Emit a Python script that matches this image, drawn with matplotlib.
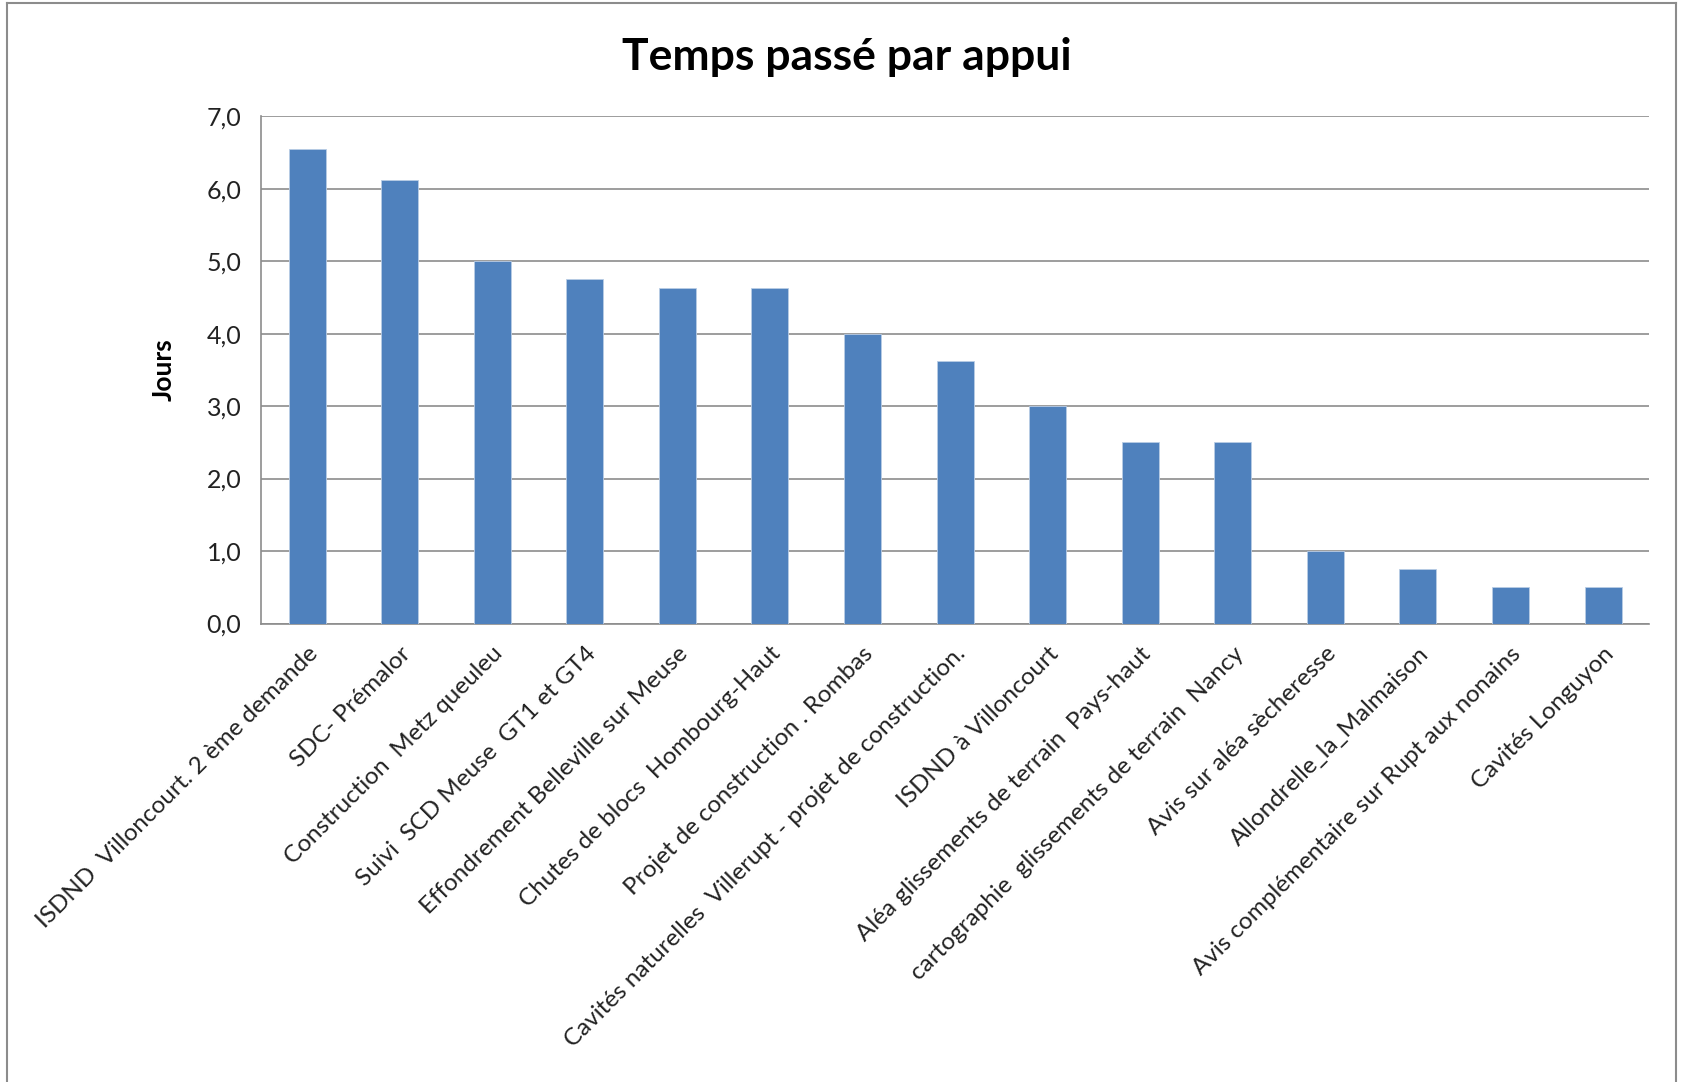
import matplotlib
matplotlib.use("Agg")
import matplotlib.pyplot as plt
from matplotlib.lines import Line2D

categories = [
    "ISDND  Villoncourt. 2 ème demande",
    "SDC- Prémalor",
    "Construction  Metz queuleu",
    "Suivi  SCD Meuse  GT1 et GT4",
    "Effondrement Belleville sur Meuse",
    "Chutes de blocs  Hombourg-Haut",
    "Projet de construction . Rombas",
    "Cavités naturelles  Villerupt - projet de construction.",
    "ISDND à Villoncourt",
    "Aléa glissements de terrain  Pays-haut",
    "cartographie  glissements de terrain  Nancy",
    "Avis sur aléa sècheresse",
    "Allondrelle_la_Malmaison",
    "Avis complémentaire sur Rupt aux nonains",
    "Cavités Longuyon",
]
values = [6.55, 6.125, 5.0, 4.75, 4.625, 4.625, 4.0, 3.625, 3.0, 2.5, 2.5, 1.0, 0.75, 0.5, 0.5]
yticks = [0, 1, 2, 3, 4, 5, 6, 7]
ytick_labels = ["0,0", "1,0", "2,0", "3,0", "4,0", "5,0", "6,0", "7,0"]

plt.rcParams['font.family'] = ['Lato', 'DejaVu Sans']

fig = plt.figure(figsize=(16.83, 10.82), dpi=100)
ax = fig.add_axes([0.155, 0.4237, 0.825, 0.469])

x = list(range(len(categories)))
ax.bar(x, values, width=0.4, color="#4F81BD", edgecolor="#B9CDE5", linewidth=0.6, zorder=3)
ax.set_xlim(-0.5, len(categories) - 0.5)
ax.set_ylim(0, 7)
ax.set_yticks(yticks)
ax.set_yticklabels(ytick_labels, fontsize=18, color="#222222")
ax.set_xticks(x)
ax.set_xticklabels(categories, rotation=45, ha="right", va="top", rotation_mode="anchor",
                   fontsize=17.5, color="#222222")
ax.tick_params(axis="x", length=0, pad=14)
ax.tick_params(axis="y", length=0, pad=14)
ax.grid(axis="y", color="#8C8C8C", linewidth=1.2, zorder=0)
for s in ["top", "right"]:
    ax.spines[s].set_visible(False)
for s in ["left", "bottom"]:
    ax.spines[s].set_color("#8C8C8C")
    ax.spines[s].set_linewidth(1.2)

ax.set_ylabel("Jours", fontsize=19, fontweight="bold", labelpad=22)
fig.text(0.503, 0.947, "Temps passé par appui", ha="center", va="center",
         fontsize=32, fontweight="bold")

# chart frame
for (xs, ys) in [([0.004, 0.004], [0.0, 0.997]), ([0.004, 0.996], [0.997, 0.997]), ([0.996, 0.996], [0.0, 0.997])]:
    fig.add_artist(Line2D(xs, ys, transform=fig.transFigure, color="#8C8C8C", linewidth=1.5))

fig.savefig("out.png", dpi=100, facecolor="white")
